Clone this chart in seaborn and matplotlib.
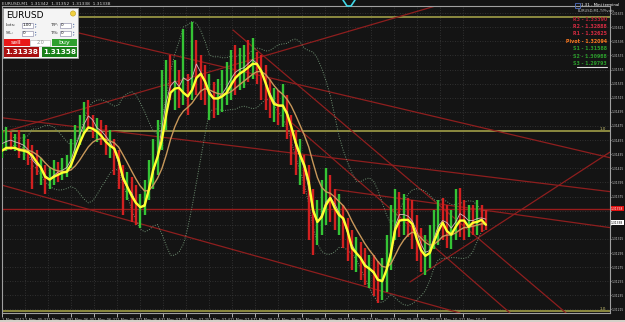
import numpy as np
import pandas as pd
import matplotlib
matplotlib.use("Agg")
import matplotlib.pyplot as plt
import seaborn as sns
from matplotlib.patches import Rectangle
from matplotlib import font_manager as fm

# ---------------- data ----------------
bar_minute = list(range(0, 339, 3))  # minutes after 05:17, 1 May 2012

ma_fast = [1.31440, 1.31444, 1.31444, 1.31444, 1.31441, 1.31440, 1.31438, 1.31433, 1.31424, 1.31416,
           1.31403, 1.31399, 1.31403, 1.31406, 1.31409, 1.31410, 1.31420, 1.31436, 1.31451, 1.31465,
           1.31473, 1.31471, 1.31467, 1.31461, 1.31453, 1.31447, 1.31443, 1.31427, 1.31402, 1.31389,
           1.31376, 1.31366, 1.31360, 1.31362, 1.31385, 1.31413, 1.31431, 1.31455, 1.31491, 1.31522,
           1.31528, 1.31529, 1.31522, 1.31517, 1.31526, 1.31543, 1.31549, 1.31538, 1.31521, 1.31514,
           1.31514, 1.31517, 1.31522, 1.31533, 1.31543, 1.31549, 1.31553, 1.31558, 1.31563, 1.31563,
           1.31553, 1.31536, 1.31518, 1.31506, 1.31504, 1.31504, 1.31492, 1.31473, 1.31451, 1.31434,
           1.31419, 1.31396, 1.31356, 1.31339, 1.31346, 1.31363, 1.31373, 1.31359, 1.31349, 1.31344,
           1.31326, 1.31302, 1.31295, 1.31288, 1.31277, 1.31273, 1.31268, 1.31257, 1.31255, 1.31271,
           1.31294, 1.31328, 1.31341, 1.31342, 1.31342, 1.31336, 1.31315, 1.31299, 1.31291, 1.31295,
           1.31311, 1.31326, 1.31338, 1.31326, 1.31321, 1.31332, 1.31341, 1.31341, 1.31332, 1.31338,
           1.31339, 1.31342, 1.31335]

bar_high = [1.31470, 1.31473, 1.31467, 1.31463, 1.31470, 1.31464, 1.31456, 1.31448, 1.31441, 1.31430,
            1.31420, 1.31416, 1.31427, 1.31424, 1.31430, 1.31434, 1.31456, 1.31477, 1.31491, 1.31509,
            1.31512, 1.31491, 1.31487, 1.31484, 1.31477, 1.31470, 1.31456, 1.31441, 1.31420, 1.31410,
            1.31402, 1.31392, 1.31378, 1.31399, 1.31427, 1.31456, 1.31484, 1.31555, 1.31569, 1.31576,
            1.31569, 1.31555, 1.31612, 1.31548, 1.31623, 1.31597, 1.31576, 1.31562, 1.31548, 1.31538,
            1.31541, 1.31555, 1.31566, 1.31583, 1.31590, 1.31586, 1.31590, 1.31597, 1.31600, 1.31580,
            1.31576, 1.31562, 1.31541, 1.31529, 1.31526, 1.31534, 1.31519, 1.31491, 1.31470, 1.31456,
            1.31434, 1.31420, 1.31385, 1.31370, 1.31399, 1.31416, 1.31406, 1.31385, 1.31378, 1.31363,
            1.31345, 1.31328, 1.31317, 1.31311, 1.31302, 1.31292, 1.31292, 1.31283, 1.31288, 1.31321,
            1.31363, 1.31385, 1.31382, 1.31378, 1.31373, 1.31370, 1.31349, 1.31331, 1.31321, 1.31335,
            1.31356, 1.31370, 1.31373, 1.31363, 1.31356, 1.31385, 1.31387, 1.31370, 1.31363, 1.31363,
            1.31370, 1.31363, 1.31356]

bar_low = [1.31430, 1.31439, 1.31441, 1.31439, 1.31430, 1.31427, 1.31420, 1.31385, 1.31406, 1.31392,
           1.31378, 1.31385, 1.31392, 1.31396, 1.31399, 1.31402, 1.31416, 1.31434, 1.31448, 1.31463,
           1.31473, 1.31458, 1.31453, 1.31448, 1.31434, 1.31430, 1.31406, 1.31385, 1.31349, 1.31370,
           1.31339, 1.31335, 1.31331, 1.31349, 1.31370, 1.31385, 1.31406, 1.31441, 1.31470, 1.31512,
           1.31498, 1.31501, 1.31505, 1.31491, 1.31512, 1.31519, 1.31512, 1.31505, 1.31484, 1.31487,
           1.31491, 1.31495, 1.31505, 1.31512, 1.31519, 1.31526, 1.31529, 1.31538, 1.31541, 1.31534,
           1.31512, 1.31498, 1.31487, 1.31481, 1.31477, 1.31473, 1.31456, 1.31420, 1.31406, 1.31392,
           1.31378, 1.31314, 1.31292, 1.31307, 1.31321, 1.31335, 1.31339, 1.31328, 1.31321, 1.31302,
           1.31283, 1.31271, 1.31268, 1.31257, 1.31250, 1.31246, 1.31234, 1.31224, 1.31229, 1.31240,
           1.31271, 1.31314, 1.31317, 1.31321, 1.31317, 1.31300, 1.31283, 1.31268, 1.31264, 1.31274,
           1.31300, 1.31307, 1.31314, 1.31302, 1.31300, 1.31314, 1.31317, 1.31314, 1.31317, 1.31321,
           1.31321, 1.31325, 1.31328]

bar_bull = [1, 1, 0, 1, 0, 1, 0, 0, 0, 1, 0, 1, 1, 0, 1, 1, 1, 1, 1, 1,
            0, 0, 1, 0, 0, 1, 0, 0, 0, 1, 0, 0, 1, 1, 1, 1, 1, 1, 1, 0,
            1, 0, 1, 0, 1, 0, 0, 0, 1, 0, 1, 1, 1, 1, 0, 1, 1, 0, 1, 0,
            0, 0, 0, 1, 0, 1, 0, 0, 0, 1, 0, 0, 0, 1, 1, 1, 0, 0, 1, 0,
            0, 0, 1, 0, 0, 1, 0, 0, 1, 1, 1, 1, 0, 1, 0, 0, 0, 0, 1, 1,
            1, 1, 0, 0, 1, 1, 0, 0, 1, 0, 1, 0, 0]

date_minutes = list(range(0, 321, 16))
date_labels = ["1 May 2012", "1 May 05:33", "1 May 05:49", "1 May 06:05", "1 May 06:21",
               "1 May 06:37", "1 May 06:53", "1 May 07:09", "1 May 07:25", "1 May 07:41",
               "1 May 07:57", "1 May 08:13", "1 May 08:29", "1 May 08:45", "1 May 09:01",
               "1 May 09:17", "1 May 09:33", "1 May 09:49", "1 May 10:05", "1 May 10:21",
               "1 May 10:37"]

price_ticks = [1.31635, 1.31615, 1.31595, 1.31575, 1.31555, 1.31535, 1.31515, 1.31495,
               1.31475, 1.31455, 1.31435, 1.31415, 1.31395, 1.31375, 1.31355, 1.31335,
               1.31315, 1.31295, 1.31275, 1.31255, 1.31235, 1.31215]

olive_levels = [1.31629, 1.31468, 1.31213]
ask_price = 1.31358
bid_price = 1.31338

trend_t0 = [-1.4, -1.4, -1.4, -1.4, 231.2, 160.4, 198.6, 283.3]
trend_p0 = [1.31633, 1.31465, 1.31487, 1.31392, 1.31385, 1.31611, 1.31484, 1.31254]
trend_t1 = [422.2, 311.1, 422.2, 318.1, 422.2, 391.7, 352.8, 422.2]
trend_p1 = [1.31430, 1.31651, 1.31382, 1.31210, 1.31331, 1.31210, 1.31210, 1.31438]

pivot_names = ["R3 - 1.33390", "R2 - 1.32888", "R1 - 1.32625", "Pivot - 1.32094",
               "S1 - 1.31588", "S2 - 1.30988", "S3 - 1.29793"]
pivot_colors = ["#b02035", "#d02a40", "#d02a40", "#ff7a20", "#2a9a2a", "#2a9a2a", "#2a9a2a"]

# ---------------- style ----------------
W, H = 625, 322
BG = "#141414"
sns.set_theme(style="dark", rc={"axes.facecolor": BG, "figure.facecolor": BG})
plt.rcParams["font.family"] = ["DejaVu Sans"]

_names = {f.name for f in fm.fontManager.ttflist}
if "Liberation Sans Narrow" in _names:
    NARROW = dict(family="Liberation Sans Narrow")
    YFS, XFS = 2.8, 3.3
else:
    NARROW = dict(family="DejaVu Sans")
    YFS, XFS = 2.2, 2.7

fig = plt.figure(figsize=(W / 100, H / 100), dpi=100)
fig.patch.set_facecolor(BG)
ax = fig.add_axes([2 / W, 1 - 313 / H, 608 / W, 307 / H])
ax.set_facecolor(BG)

df = pd.DataFrame({"minute": bar_minute, "fast": ma_fast, "high": bar_high,
                   "low": bar_low, "bull": bar_bull})
df["mid"] = (df["high"] + df["low"]) / 2
df["slow"] = df["fast"].ewm(span=7).mean()
df["thin"] = df["mid"].rolling(2, min_periods=1).mean()
roll = df["mid"].rolling(12, min_periods=3)
df["bb_up"] = roll.mean() + 2 * roll.std()
df["bb_dn"] = roll.mean() - 2 * roll.std()

# grid
for t in date_minutes:
    ax.axvline(t, color="#3a3a3a", lw=0.6, ls=(0, (1, 2)), zorder=0)
for p in price_ticks:
    ax.axhline(p, color="#3a3a3a", lw=0.6, ls=(0, (1, 2)), zorder=0)

# level lines
for p in olive_levels:
    ax.axhline(p, color="#8c8a40", lw=1.4, zorder=1)
ax.axhline(ask_price, color="#9a1c1c", lw=1.0, zorder=1)

# trend lines
for t0, p0, t1, p1 in zip(trend_t0, trend_p0, trend_t1, trend_p1):
    ax.plot([t0, t1], [p0, p1], color="#8e1e1e", lw=0.9, zorder=1)

# bollinger
sns.lineplot(data=df, x="minute", y="bb_up", ax=ax, color="#6f8f72", lw=0.7,
             linestyle=(0, (1, 1.5)), estimator=None, zorder=2)
sns.lineplot(data=df, x="minute", y="bb_dn", ax=ax, color="#6f8f72", lw=0.7,
             linestyle=(0, (1, 1.5)), estimator=None, zorder=2)

# bars
cols = np.where(df["bull"].values == 1, "#35c435", "#d22020")
ax.vlines(df["minute"], df["low"], df["high"], colors=cols, lw=1.7, zorder=3)

# moving averages
sns.lineplot(data=df, x="minute", y="thin", ax=ax, color="#d9b8c0", lw=0.6, estimator=None, zorder=4)
sns.lineplot(data=df, x="minute", y="slow", ax=ax, color="#c8985a", lw=1.0, estimator=None, zorder=4)
sns.lineplot(data=df, x="minute", y="fast", ax=ax, color="#ffff30", lw=1.7, estimator=None, zorder=5)

ax.set_xlim(0, 422.2)
ax.set_ylim(1.31210, 1.31645)
ax.set_xlabel("")
ax.set_ylabel("")
ax.grid(False)

ax.yaxis.tick_right()
ax.set_yticks(price_ticks)
# the two labels under the bid/ask boxes are hidden, as in the terminal
ax.set_yticklabels(["" if p in (1.31355, 1.31335) else f"{p:.5f}" for p in price_ticks], **NARROW)
ax.set_xticks(date_minutes)
ax.set_xticklabels(date_labels, ha="left", **NARROW)
ax.tick_params(axis="y", colors="#c8c8c8", labelsize=YFS, length=1.0, width=0.6, pad=0.3, right=True, left=False)
ax.tick_params(axis="x", colors="#c8c8c8", labelsize=XFS, length=3, width=0.6, pad=0.3, bottom=True)
for s in ax.spines.values():
    s.set_color("#a0a0a0")
    s.set_linewidth(0.8)

# price labels
ax.text(1.0018, ask_price, "1.31358", transform=ax.get_yaxis_transform(), fontsize=YFS,
        color="white", va="center", ha="left", clip_on=False,
        bbox=dict(boxstyle="square,pad=0.1", fc="#e01010", ec="none"), zorder=10, **NARROW)
ax.text(1.0018, bid_price, "1.31338", transform=ax.get_yaxis_transform(), fontsize=YFS,
        color="black", va="center", ha="left", clip_on=False,
        bbox=dict(boxstyle="square,pad=0.1", fc="white", ec="none"), zorder=10, **NARROW)
for p in olive_levels[1:]:
    ax.text(0.993, p, "1.0", transform=ax.get_yaxis_transform(), fontsize=3, color="#c8c070",
            va="bottom", ha="right")

# ---------------- overlay (panel widgets) ----------------
ov = fig.add_axes([0, 0, 1, 1], facecolor="none")
ov.set_xlim(0, W)
ov.set_ylim(H, 0)
ov.axis("off")

ov.text(2, 3.5, "EURUSD,M1  1.31342  1.31352  1.31338  1.31338", fontsize=3.2, color="#d0d0d0", va="center")
ov.add_patch(Rectangle((0, 319.5), W, 2.5, fc="#d4d0c8", ec="none"))

# cyan marker at top
ov.plot([343, 347, 351, 355], [0, 6, 6, 0], color="#40d8e8", lw=1.2)

# trading panel
ov.add_patch(Rectangle((3, 8), 75, 50, fc="#f4f4f4", ec="#9a9a9a", lw=0.6))
ov.text(6, 15, "EURUSD", fontsize=6.5, color="black", va="center")
ov.add_patch(plt.Circle((73, 13.5), 2.6, fc="#f0d040", ec="#c0a020", lw=0.4))
for (lx, ly, lab) in [(6, 25, "Lots:"), (50, 25, "T/P:"), (6, 33, "S/L:"), (50, 33, "T/S:")]:
    ov.text(lx, ly, lab, fontsize=3.2, color="#303030", va="center")
for (bx, by, val) in [(22, 22.5, "1.00"), (60, 22.5, "0"), (22, 30.5, "0"), (60, 30.5, "0")]:
    ov.add_patch(Rectangle((bx, by), 11, 5.5, fc="white", ec="#8080a0", lw=0.4))
    ov.text(bx + 1, by + 2.9, val, fontsize=3, color="black", va="center")
    ov.text(bx + 12.5, by + 2.9, "\u25B4\n\u25BE", fontsize=2, color="#4060a0", va="center", linespacing=0.6)
ov.add_patch(Rectangle((4, 39), 26, 7, fc="#e81818", ec="none"))
ov.text(15.5, 42.5, "sell", fontsize=4.5, color="white", va="center", ha="center")
ov.add_patch(Rectangle((30, 39.5), 20, 6, fc="white", ec="#b0b0b0", lw=0.4))
ov.text(40, 42.5, "2.0", fontsize=3.5, color="#909090", va="center", ha="center")
ov.add_patch(Rectangle((52, 39), 25, 7, fc="#2fa02f", ec="none"))
ov.text(64.5, 42.5, "buy", fontsize=4.5, color="white", va="center", ha="center")
ov.add_patch(Rectangle((4, 47), 35, 10, fc="#a81010", ec="none"))
ov.text(21.5, 52, "1.31338", fontsize=5.2, color="white", va="center", ha="center", fontweight="bold")
ov.add_patch(Rectangle((42, 47), 35, 10, fc="#188018", ec="none"))
ov.text(59.5, 52, "1.31358", fontsize=5.2, color="white", va="center", ha="center", fontweight="bold")

# mini terminal header and pivot table
ov.text(581, 5, "1.31 - Mini terminal", fontsize=2.8, color="white", va="center")
ov.add_patch(Rectangle((574.5, 2.5), 5, 5, fc="none", ec="#5070c0", lw=0.6))
ov.text(578, 11, "EURUSD,M1,T/Pivots", fontsize=2.6, color="#c0c0c0", va="center")
for k, (name, col) in enumerate(zip(pivot_names, pivot_colors)):
    ov.text(607, 19 + 7.4 * k, name, fontsize=3.4, color=col, va="center", ha="right", fontweight="bold")
ov.plot([577, 607], [67, 67], color="#e0e0e0", lw=0.8)

fig.savefig("out.png", dpi=100, facecolor=BG)
